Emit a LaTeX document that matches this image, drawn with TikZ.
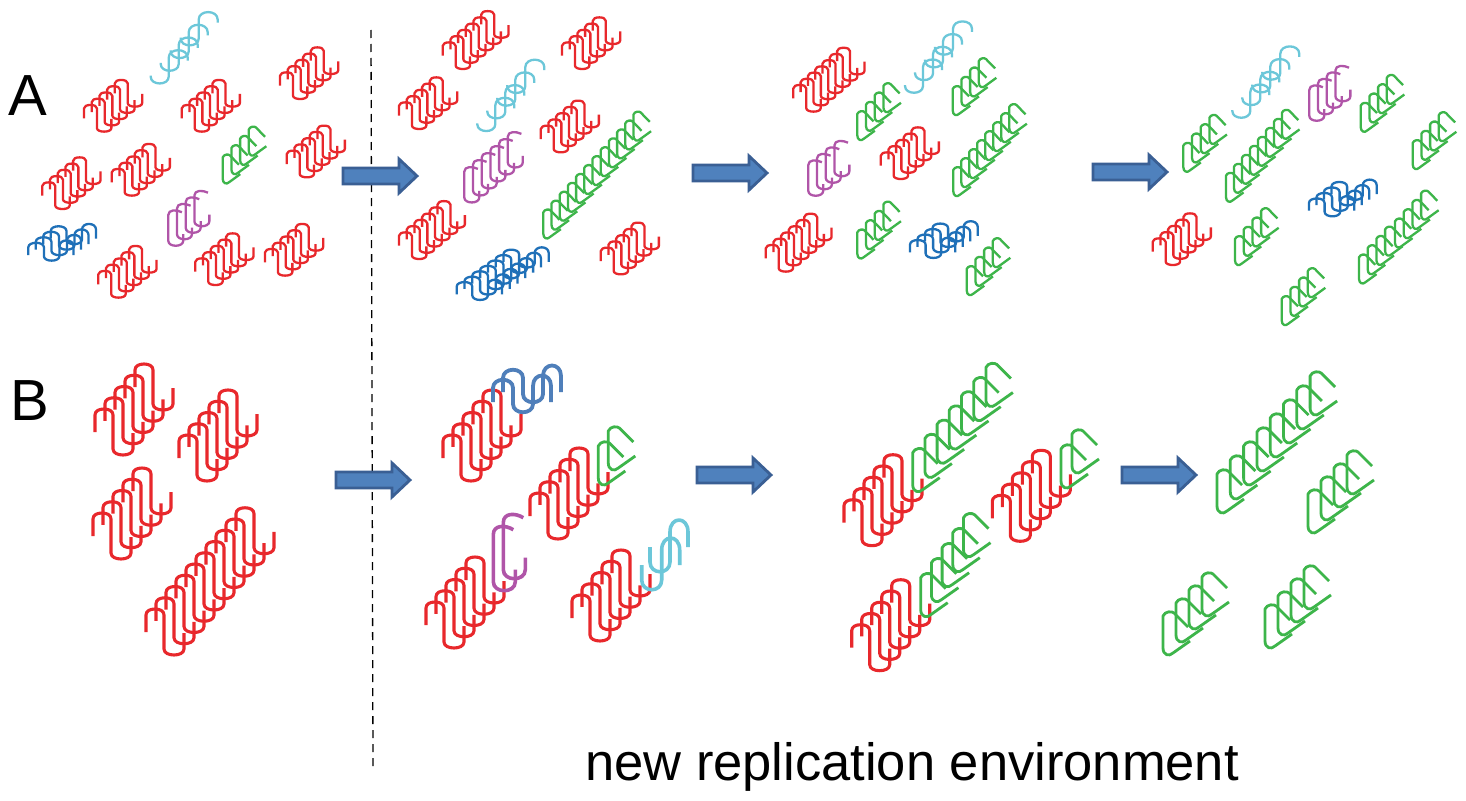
\documentclass[tikz,border=0pt]{standalone}
\usepackage{fontspec}
\setmainfont{Liberation Sans}
\definecolor{cred}{HTML}{E8282C}
\definecolor{cgreen}{HTML}{3DB54A}
\definecolor{cpurple}{HTML}{B055A8}
\definecolor{ccyan}{HTML}{6CC7D9}
\definecolor{cblue}{HTML}{1F70B8}
\definecolor{cbluebig}{HTML}{4F7FBA}
\definecolor{carrowfill}{HTML}{4F81BD}
\definecolor{carrowline}{HTML}{3A5F94}
\tikzset{
  strand/.style={line cap=butt,line join=round},
  redthin/.style={strand,draw=cred,line width=2.3pt},
  redthick/.style={strand,draw=cred,line width=3.1pt},
  greenthin/.style={strand,draw=cgreen,line width=2.3pt},
  greenthick/.style={strand,draw=cgreen,line width=2.8pt},
  purplethin/.style={strand,draw=cpurple,line width=2.3pt},
  purplethick/.style={strand,draw=cpurple,line width=3.6pt},
  cyanthin/.style={strand,draw=ccyan,line width=2.3pt},
  cyanthick/.style={strand,draw=ccyan,line width=3.6pt},
  bluethin/.style={strand,draw=cblue,line width=2.3pt},
  bluethick/.style={strand,draw=cbluebig,line width=3.8pt},
  bigarrow/.style={fill=carrowfill,draw=carrowline,line width=2.8pt,line join=miter},
  biglabel/.style={inner sep=0pt,font=\fontsize{58}{58}\selectfont},
  caption/.style={inner sep=0pt,font=\fontsize{52.5}{52.5}\selectfont},
  divider/.style={draw=black,line width=1.3pt,dash pattern=on 8pt off 6pt}
}
\newcommand\pathred{(0,0) -- (0,-17) .. controls (0,-21) and (4,-23) .. (9,-23) .. controls (14,-23) and (18,-21) .. (18,-17) -- (18,17) .. controls (18,21) and (23,23) .. (28,23) .. controls (33,23) and (38,21) .. (38,17) -- (38,1)}
\newcommand\pathgreen{(25,12) -- (11,-2) .. controls (9,-4) and (2,-4) .. (0,1) -- (0,33) .. controls (0,40) and (6,42) .. (10,38) -- (27,26)}
\newcommand\pathwave{(0,0) -- (0,-14) .. controls (0,-25) and (20,-25) .. (20,-14) -- (20,2) .. controls (20,13) and (40,13) .. (40,2) -- (40,-16) .. controls (40,-30) and (58,-30) .. (58,-16) -- (58,0)}
\newcommand\pathcyana{(0,0) -- (0,1) .. controls (0,10) and (18,10) .. (18,1) -- (18,-18) .. controls (18,-28) and (37,-28) .. (37,-18) -- (37,-15)}
\newcommand\pathcyanb{(0,0) -- (0,15) .. controls (0,28) and (20,28) .. (20,15) -- (20,-15) .. controls (20,-31) and (38,-31) .. (38,-15) -- (38,0)}
\newcommand\pathpurple{(20,-2) .. controls (12,-7) and (0,-7) .. (0,3) -- (0,50) .. controls (0,62) and (22,62) .. (22,50) -- (22,38)}
% path, style, x, y, n, dx, dy, sx, sy
\newcommand\grp[9]{\foreach \k in {1,...,#5}{\draw[#2,shift={({#3+(\k-1)*(#6)},{#4+(\k-1)*(#7)})},xscale=#8,yscale=#9] #1;}}
\newcommand\rs[3]{\grp{\pathred}{redthin}{#1}{#2}{#3}{7.7}{-6.25}{.72}{.58}}
\newcommand\rb[3]{\grp{\pathred}{redthick}{#1}{#2}{#3}{10}{-11.25}{1}{1}}
\newcommand\gs[5]{\grp{\pathgreen}{greenthin}{#1}{#2}{#3}{#4}{#5}{.65}{.67}}
\newcommand\gb[5]{\grp{\pathgreen}{greenthick}{#1}{#2}{#3}{#4}{#5}{1}{1}}
\newcommand\ps[5]{\grp{\pathpurple}{purplethin}{#1}{#2}{#3}{#4}{#5}{.68}{.55}}
\newcommand\cs[2]{\grp{\pathcyana}{cyanthin}{#1}{#2}{4}{10}{-12.7}{1}{1}}
\newcommand\bs[5]{\grp{\pathwave}{bluethin}{#1}{#2}{#3}{#4}{#5}{.78}{.55}}
\newcommand\arr[2]{\draw[bigarrow,shift={(#1,#2)}] (0,-8) -- (56,-8) -- (56,-17) -- (74,0) -- (56,17) -- (56,8) -- (0,8) -- cycle;}
\begin{document}
\begin{tikzpicture}[x=1pt,y=-1pt]
\useasboundingbox[fill=white] (0,0) rectangle (1466,800);
% dashed divider
\coordinate (dtop) at (371,30);
\coordinate (dbot) at (373,768);
\draw[divider] (dtop) -- (dbot);
% labels
\node[biglabel,anchor=base west] (la) at (8.5,115) {A};
\node[biglabel,anchor=base west] (lb) at (10,420) {B};
\node[caption,anchor=base west] (cap) at (585,780) {new replication environment};
% panel A1
\rs{84}{118.3}{5}\rs{181.7}{118.3}{5}\rs{280}{85.7}{5}\rs{42.3}{195.7}{5}\rs{111.7}{182.3}{5}
\rs{286.7}{164}{5}\rs{98.3}{284.3}{5}\rs{195.3}{271.7}{5}\rs{265}{262.3}{5}
\cs{150.7}{75.7}
\gs{222.7}{156.7}{4}{8.7}{-9.3}
\ps{168.3}{213.3}{4}{8.7}{-6.5}
\bs{28.3}{255}{4}{7.5}{-5.5}
% panel A2
\rs{442.7}{55.7}{6}\rs{562}{55.7}{5}\rs{399}{115.7}{5}\rs{540.7}{139}{5}\rs{399}{245.7}{6}\rs{600.7}{261}{5}
\cs{477.3}{123.3}
\ps{464.3}{170}{6}{8.7}{-7}
\gs{543.3}{211.7}{12}{8.2}{-8.9}
\bs{456.7}{294.3}{7}{7.8}{-5.4}
% panel A3
\grp{\pathred}{redthin}{793.3}{98.3}{7}{7.3}{-6.2}{.72}{.58}
\rs{880.7}{165.7}{5}\rs{765.7}{258.3}{6}
\cs{905}{85}
\ps{808.3}{163.3}{4}{8.7}{-6.5}
\bs{910}{252.3}{4}{7.5}{-5.5}
\gs{857.3}{113.3}{4}{8.7}{-9.3}
\gs{952.7}{88.3}{4}{8.7}{-9.3}
\gs{953.3}{169.3}{8}{8}{-9}
\gs{857.3}{231.7}{4}{8.7}{-9.3}
\gs{966.7}{268.3}{4}{8.7}{-9.3}
% panel A4
\cs{1232.3}{110}
\ps{1309.3}{88.3}{4}{8.7}{-6.5}
\gs{1183.3}{145}{4}{8.7}{-9.3}
\gs{1226}{175}{8}{8}{-9}
\gs{1360.7}{105}{4}{8.7}{-9.3}
\gs{1412.7}{142.3}{4}{8.7}{-9.3}
\gs{1235}{238.3}{4}{8.7}{-9.3}
\gs{1281.7}{298.3}{4}{8.7}{-9.3}
\gs{1359}{256.7}{4}{8.7}{-9.3}
\gs{1395}{220.7}{4}{8.7}{-9.3}
\rs{1152.7}{251.7}{5}
\bs{1309}{210.7}{4}{7.5}{-5.5}
% panel B1
\rb{95}{432}{5}\rb{179}{458}{5}\rb{93}{536}{5}\rb{146}{632}{10}
% panel B2
\rb{443}{458}{5}\rb{530}{516}{5}\rb{426}{625}{5}\rb{572}{618}{5}
\grp{\pathwave}{bluethick}{493}{402}{2}{10}{-10}{1}{1}
\gb{598.3}{445}{2}{10}{-15}
\grp{\pathpurple}{purplethick}{493.3}{531.7}{2}{10}{-12}{1}{1}
\grp{\pathcyanb}{cyanthick}{641.7}{565}{2}{8.3}{-18}{1}{1}
% panel B3
\rb{844}{522.7}{5}\rb{992.3}{518.3}{5}\rb{851.7}{647.7}{5}
\gb{912.7}{451.7}{7}{12.2}{-14.2}
\gb{1061}{448}{2}{11}{-15}
\gb{920.7}{576.7}{5}{10.7}{-15}
% panel B4
\gb{1217}{473}{8}{13.3}{-14}
\gb{1308}{493}{4}{13}{-13}
\gb{1163}{615}{4}{13}{-13}
\gb{1265}{608}{4}{13}{-13}
% arrows
\arr{343}{176}\arr{693}{173}\arr{1093}{172}
\arr{336}{480}\arr{697}{475}\arr{1122}{475}
\end{tikzpicture}
\end{document}
